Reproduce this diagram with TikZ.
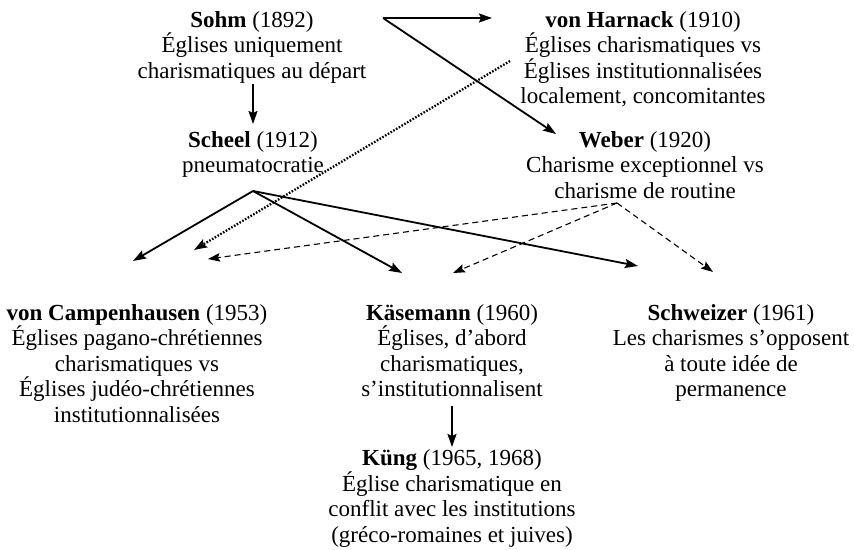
\documentclass[tikz,border=0pt]{standalone}
\usepackage{fontspec}
\setmainfont{Liberation Serif}
\usetikzlibrary{arrows.meta}
\begin{document}
\begin{tikzpicture}[x=1pt,y=-1pt,
  txt/.style={align=center, inner sep=0pt, anchor=base, font=\fontsize{23}{25.5}\selectfont},
  arr/.style={-{Stealth[length=13pt,width=9pt,inset=2pt]}, line width=1.8pt},
  darr/.style={-{Stealth[length=12pt,width=8.5pt,inset=2pt]}, line width=1.1pt, dash pattern=on 6pt off 4pt},
  dotarr/.style={-{Stealth[length=13pt,width=9pt,inset=2pt]}, line width=2.3pt, dash pattern=on 1.6pt off 1.6pt},
]
\useasboundingbox (0,0) rectangle (854,549);
% anchor=base is the baseline of the last line
\node[txt] (sohm) at (252,78) {\textbf{Sohm} (1892)\\Églises uniquement\\charismatiques au départ};
\node[txt] (harnack) at (643,103.5) {\textbf{von Harnack} (1910)\\Églises charismatiques vs\\Églises institutionnalisées\\localement, concomitantes};
\node[txt] (scheel) at (253,172.5) {\textbf{Scheel} (1912)\\pneumatocratie};
\node[txt] (weber) at (645,198) {\textbf{Weber} (1920)\\Charisme exceptionnel vs\\charisme de routine};
\node[txt] (campen) at (137,422) {\textbf{von Campenhausen} (1953)\\Églises pagano-chrétiennes\\charismatiques vs\\Églises judéo-chrétiennes\\institutionnalisées};
\node[txt] (kase) at (452,396.5) {\textbf{Käsemann} (1960)\\Églises, d’abord\\charismatiques,\\s’institutionnalisent};
\node[txt] (schw) at (731,396.5) {\textbf{Schweizer} (1961)\\Les charismes s’opposent\\à toute idée de\\permanence};
\node[txt] (kung) at (452,542) {\textbf{Küng} (1965, 1968)\\Église charismatique en\\conflit avec les institutions\\(gréco-romaines et juives)};
% connector points
\coordinate (sohmA) at (253,84);
\coordinate (scheelIn) at (253,124);
\coordinate (sohmV) at (383,18);
\coordinate (harnackIn) at (492,18);
\coordinate (weberIn) at (556,134);
\coordinate (harnackOut) at (510,61);
\coordinate (campenInDot) at (194,250);
\coordinate (scheelV) at (253,191);
\coordinate (campenIn) at (133,261);
\coordinate (kaseIn) at (402,273);
\coordinate (schwInS) at (638,266);
\coordinate (weberV) at (617,203);
\coordinate (campenInD) at (208,259);
\coordinate (kaseInD) at (453,273);
\coordinate (schwIn) at (713,272);
\coordinate (kaseOut) at (452,406);
\coordinate (kungIn) at (452,447);
\draw[arr] (sohmA) -- (scheelIn);
\draw[arr] (sohmV) -- (harnackIn);
\draw[arr] (sohmV) -- (weberIn);
\draw[dotarr] (harnackOut) -- (campenInDot);
\draw[arr] (scheelV) -- (campenIn);
\draw[arr] (scheelV) -- (kaseIn);
\draw[arr] (scheelV) -- (schwInS);
\draw[darr] (weberV) -- (campenInD);
\draw[darr] (weberV) -- (kaseInD);
\draw[darr] (weberV) -- (schwIn);
\draw[arr] (kaseOut) -- (kungIn);
\end{tikzpicture}
\end{document}
